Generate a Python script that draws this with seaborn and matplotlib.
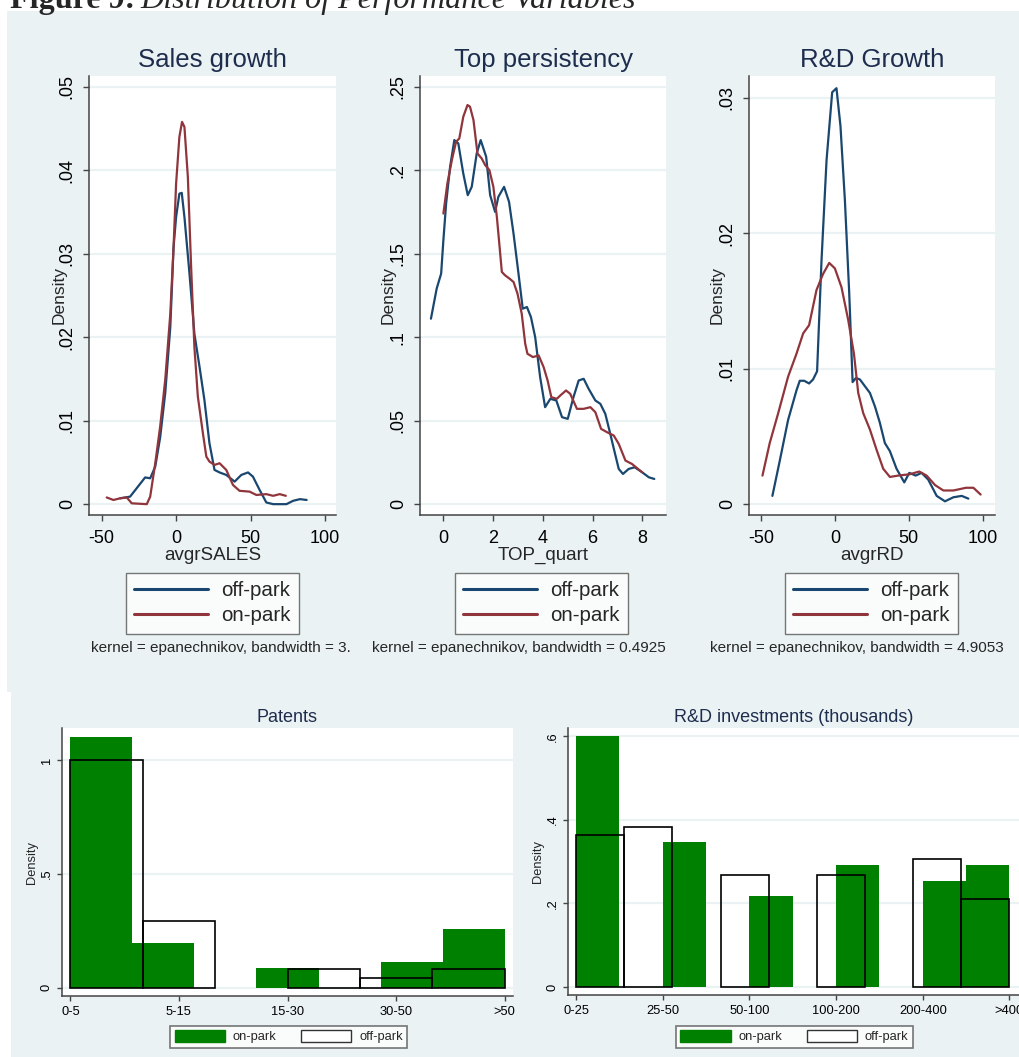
import numpy as np
import pandas as pd
import matplotlib
matplotlib.use("Agg")
import matplotlib.pyplot as plt
import seaborn as sns
from matplotlib.patches import Rectangle, Patch
from matplotlib.lines import Line2D

# ---------------- data ----------------
# Kernel density estimates (x value, density)
sales_off_x = [-37.6, -30.9, -20.8, -17.4, -14.0, -10.7, -7.3, -3.9, -1.7, 0.0, 2.2, 3.8, 5.6,
               9.0, 12.3, 15.7, 19.0, 22.4, 25.8, 29.2, 33.7, 39.3, 43.8, 48.3, 51.6, 56.1,
               60.6, 65.2, 74.1, 78.6, 83.2, 87.7]
sales_off_y = [0.0007, 0.0009, 0.0032, 0.0031, 0.0045, 0.0080, 0.0133, 0.0212, 0.0308, 0.0344,
               0.0372, 0.0373, 0.0344, 0.0276, 0.0204, 0.0165, 0.0125, 0.0073, 0.0041, 0.0038,
               0.0035, 0.0027, 0.0035, 0.0038, 0.0033, 0.0017, 0.0002, 0.0, 0.0, 0.0004,
               0.0006, 0.0005]
sales_on_x = [-46.6, -42.1, -37.6, -33.1, -29.8, -19.7, -17.4, -14.0, -10.7, -7.3, -3.9, -1.7,
              0.0, 2.2, 4.0, 5.6, 7.9, 10.1, 12.3, 14.6, 18.0, 20.3, 22.4, 25.8, 29.2, 33.7,
              38.2, 42.6, 49.4, 53.9, 60.6, 65.2, 69.6, 73.7]
sales_on_y = [0.0008, 0.0005, 0.0007, 0.0008, 0.0001, 0.0, 0.0009, 0.0049, 0.0093, 0.0149,
              0.0228, 0.0308, 0.0384, 0.0440, 0.0458, 0.0452, 0.0392, 0.0284, 0.0188, 0.0129,
              0.0085, 0.0057, 0.0051, 0.0047, 0.0049, 0.0041, 0.0023, 0.0016, 0.0015, 0.0011,
              0.0012, 0.0010, 0.0012, 0.0010]

top_off_x = [-0.5, -0.27, -0.09, 0.0, 0.11, 0.27, 0.44, 0.6, 0.8, 0.98, 1.14, 1.34, 1.5, 1.72,
             1.88, 2.08, 2.21, 2.44, 2.64, 2.82, 3.02, 3.19, 3.36, 3.52, 3.69, 3.89, 4.09, 4.3,
             4.54, 4.77, 5.0, 5.23, 5.44, 5.64, 5.84, 6.11, 6.31, 6.51, 6.71, 6.87, 7.05, 7.22,
             7.45, 7.69, 7.99, 8.26, 8.48]
top_off_y = [0.111, 0.129, 0.138, 0.158, 0.180, 0.202, 0.218, 0.216, 0.198, 0.185, 0.190, 0.210,
             0.218, 0.208, 0.185, 0.175, 0.184, 0.190, 0.181, 0.162, 0.138, 0.117, 0.118, 0.112,
             0.100, 0.076, 0.058, 0.063, 0.062, 0.052, 0.051, 0.064, 0.074, 0.075, 0.069, 0.062,
             0.060, 0.054, 0.042, 0.032, 0.021, 0.018, 0.021, 0.022, 0.019, 0.016, 0.015]
top_on_x = [0.0, 0.16, 0.34, 0.51, 0.64, 0.8, 0.97, 1.07, 1.21, 1.37, 1.54, 1.68, 1.85, 2.01,
            2.15, 2.26, 2.35, 2.48, 2.66, 2.82, 2.98, 3.15, 3.29, 3.38, 3.6, 3.83, 4.03, 4.19,
            4.34, 4.56, 4.7, 4.93, 5.1, 5.37, 5.64, 5.91, 6.11, 6.34, 6.58, 6.85, 7.05, 7.32,
            7.58, 7.99]
top_on_y = [0.174, 0.192, 0.206, 0.217, 0.219, 0.232, 0.239, 0.238, 0.230, 0.210, 0.207, 0.203,
            0.200, 0.190, 0.172, 0.154, 0.139, 0.137, 0.135, 0.133, 0.126, 0.114, 0.096, 0.090,
            0.088, 0.089, 0.082, 0.074, 0.064, 0.063, 0.065, 0.068, 0.066, 0.057, 0.057, 0.058,
            0.055, 0.045, 0.043, 0.041, 0.036, 0.026, 0.024, 0.019]

rd_off_x = [-42.2, -37.2, -31.6, -25.9, -23.7, -20.7, -17.4, -14.7, -12.0, -9.0, -5.6, -1.8,
            1.1, 3.8, 6.8, 9.7, 12.0, 14.2, 16.9, 20.3, 23.7, 27.1, 30.4, 33.8, 37.2, 41.7,
            46.9, 50.3, 54.6, 58.6, 63.1, 68.8, 74.4, 80.1, 85.7, 90.2]
rd_off_y = [0.0006, 0.0032, 0.0062, 0.0084, 0.0091, 0.0091, 0.0089, 0.0092, 0.0098, 0.0180,
            0.0254, 0.0304, 0.0307, 0.0279, 0.0224, 0.0156, 0.0090, 0.0093, 0.0092, 0.0087,
            0.0082, 0.0072, 0.0060, 0.0045, 0.0039, 0.0026, 0.0016, 0.0023, 0.0021, 0.0023,
            0.0018, 0.0006, 0.0002, 0.0005, 0.0006, 0.0004]
rd_on_x = [-48.9, -44.0, -38.3, -31.6, -25.9, -21.4, -17.4, -12.4, -7.9, -3.8, 0.0, 4.5, 9.0,
           12.9, 15.8, 19.2, 23.7, 28.2, 32.7, 37.2, 42.8, 50.7, 57.0, 62.0, 67.7, 73.3, 80.1,
           88.6, 93.6, 98.5]
rd_on_y = [0.0021, 0.0045, 0.0067, 0.0094, 0.0111, 0.0126, 0.0132, 0.0158, 0.0170, 0.0178,
           0.0174, 0.0160, 0.0136, 0.0111, 0.0082, 0.0067, 0.0055, 0.0040, 0.0026, 0.0020,
           0.0021, 0.0022, 0.0024, 0.0021, 0.0014, 0.0010, 0.0010, 0.0012, 0.0012, 0.0007]

# Histogram densities per bin (classes spread evenly over the category axis)
patents_cats = ["0-5", "5-15", "15-30", "30-50", ">50"]
patents_on = [1.103, 0.196, 0.0, 0.085, 0.0, 0.113, 0.257]
patents_off = [1.0, 0.293, 0.0, 0.081, 0.041, 0.081]

rdinv_cats = ["0-25", "25-50", "50-100", "100-200", "200-400", ">400"]
rdinv_on = [0.600, 0.0, 0.346, 0.0, 0.219, 0.0, 0.291, 0.0, 0.255, 0.291]
rdinv_off = [0.363, 0.383, 0.0, 0.268, 0.0, 0.268, 0.0, 0.306, 0.211]

sales_yticks = [0, 0.01, 0.02, 0.03, 0.04, 0.05]
sales_ylabels = ["0", ".01", ".02", ".03", ".04", ".05"]
top_yticks = [0, 0.05, 0.10, 0.15, 0.20, 0.25]
top_ylabels = ["0", ".05", ".1", ".15", ".2", ".25"]
rd_yticks = [0, 0.01, 0.02, 0.03]
rd_ylabels = ["0", ".01", ".02", ".03"]
patents_yticks = [0, 0.5, 1.0]
patents_ylabels = ["0", ".5", "1"]
rdinv_yticks = [0, 0.2, 0.4, 0.6]
rdinv_ylabels = ["0", ".2", ".4", ".6"]

bandwidth_notes = ["kernel = epanechnikov, bandwidth = 3.",
                   "kernel = epanechnikov, bandwidth = 0.4925",
                   "kernel = epanechnikov, bandwidth = 4.9053"]

# ---------------- style ----------------
sns.set_style("ticks")
plt.rcParams["font.family"] = ["Liberation Sans", "DejaVu Sans"]

NAVY = "#1A476F"
MAROON = "#90353B"
GREEN = "#008000"
BG = "#EAF2F3"
GRID = "#EAF2F3"
TITLE = "#1E2D4E"
AXIS = "#444444"

W, H = 1019, 1057
fig = plt.figure(figsize=(W / 100, H / 100), dpi=100)


def fx(x):
    return x / W


def fy(y):
    return 1 - y / H


def px_axes(x0, y0, x1, y1):
    return fig.add_axes([fx(x0), fy(y1), (x1 - x0) / W, (y1 - y0) / H])


# graph-region backgrounds
fig.add_artist(Rectangle((fx(7), fy(692)), (W - 7) / W, (692 - 11) / H,
                         transform=fig.transFigure, facecolor=BG, edgecolor="none", zorder=0))
fig.add_artist(Rectangle((fx(11), fy(H)), (W - 11) / W, (H - 692) / H,
                         transform=fig.transFigure, facecolor=BG, edgecolor="none", zorder=0))

# caption
cap1 = fig.text(fx(10), fy(8), "Figure 9:", family="Liberation Serif", weight="bold",
                fontsize=23.1, va="baseline", ha="left")
fig.canvas.draw()
bb = cap1.get_window_extent()
fig.text(bb.x1 / W + 5 / W, fy(8), "Distribution of Performance Variables",
         family="Liberation Serif", style="italic", fontsize=23.1, va="baseline", ha="left")


def base_style(ax, label_size, tick_len):
    ax.set_facecolor("white")
    for s in ["top", "right"]:
        ax.spines[s].set_visible(False)
    for s in ["left", "bottom"]:
        ax.spines[s].set_color(AXIS)
        ax.spines[s].set_linewidth(1.1)
    ax.grid(axis="y", color=GRID, linewidth=1.6)
    ax.grid(axis="x", visible=False)
    ax.set_axisbelow(True)
    ax.tick_params(axis="both", colors=AXIS, labelcolor="black", length=tick_len,
                   width=1.0, labelsize=label_size)


# ---------------- top: kernel densities ----------------
density_panels = [
    dict(box=(89, 76, 336, 515), title="Sales growth", xlabel="avgrSALES",
         off=(sales_off_x, sales_off_y), on=(sales_on_x, sales_on_y),
         xlim=(-58.5, 107.4), ylim=(-0.0013, 0.0513), xticks=[-50, 0, 50, 100],
         yticks=sales_yticks, ylabels=sales_ylabels, legend_x=126, note_x=91, ylab_off=22),
    dict(box=(420, 76, 666, 515), title="Top persistency", xlabel="TOP_quart",
         off=(top_off_x, top_off_y), on=(top_on_x, top_on_y),
         xlim=(-0.94, 8.95), ylim=(-0.0066, 0.2564), xticks=[0, 2, 4, 6, 8],
         yticks=top_yticks, ylabels=top_ylabels, legend_x=455, note_x=372, ylab_off=24),
    dict(box=(749, 76, 995, 515), title="R&D Growth", xlabel="avgrRD",
         off=(rd_off_x, rd_off_y), on=(rd_on_x, rd_on_y),
         xlim=(-58.0, 108.2), ylim=(-0.00081, 0.0316), xticks=[-50, 0, 50, 100],
         yticks=rd_yticks, ylabels=rd_ylabels, legend_x=785, note_x=710, ylab_off=24),
]

for i, p in enumerate(density_panels):
    ax = px_axes(*p["box"])
    base_style(ax, 13, 4.5)
    df = pd.concat([
        pd.DataFrame({"x": p["off"][0], "density": p["off"][1], "group": "off-park"}),
        pd.DataFrame({"x": p["on"][0], "density": p["on"][1], "group": "on-park"}),
    ], ignore_index=True)
    sns.lineplot(data=df, x="x", y="density", hue="group",
                 palette={"off-park": NAVY, "on-park": MAROON},
                 estimator=None, sort=False, linewidth=1.6, legend=False, ax=ax)
    ax.set_xlim(p["xlim"])
    ax.set_ylim(p["ylim"])
    ax.set_xticks(p["xticks"])
    ax.set_xticklabels([f"{t:g}" for t in p["xticks"]])
    ax.set_yticks(p["yticks"])
    ax.set_yticklabels(p["ylabels"], rotation=90, va="center")
    ax.tick_params(axis="y", pad=5)
    ax.tick_params(axis="x", pad=6)
    ax.set_title(p["title"], fontsize=18.5, color=TITLE, pad=6.5)
    ax.set_xlabel(p["xlabel"], fontsize=13.5, labelpad=0)
    ax.set_ylabel("Density", fontsize=12.5)
    x0, y0, x1, y1 = p["box"]
    ax.yaxis.set_label_coords(-p["ylab_off"] / (x1 - x0), 0.5)

    handles = [Line2D([], [], color=NAVY, lw=2.2), Line2D([], [], color=MAROON, lw=2.2)]
    leg = ax.legend(handles, ["off-park", "on-park"], loc="upper left",
                    bbox_to_anchor=(fx(p["legend_x"]), fy(573)), bbox_transform=fig.transFigure,
                    frameon=True, fancybox=False, fontsize=14.8, handlelength=3.6,
                    handletextpad=0.65, labelspacing=0.3, borderpad=0.4, borderaxespad=0)
    leg.get_frame().set_edgecolor("#555555")
    leg.get_frame().set_linewidth(1.0)
    fig.text(fx(p["note_x"]), fy(648), bandwidth_notes[i], fontsize=11, va="center", ha="left")


# ---------------- bottom: histograms ----------------
def draw_hist(ax, on_vals, off_vals, upper):
    for vals, kw in [(on_vals, dict(color=GREEN, alpha=1, linewidth=0, fill=True)),
                     (off_vals, dict(color="black", linewidth=1.2, fill=False))]:
        edges = np.linspace(0, upper, len(vals) + 1)
        bins_df = pd.DataFrame({"bin": (edges[:-1] + edges[1:]) / 2, "density": vals})
        n_before = len(ax.patches)
        sns.histplot(data=bins_df, x="bin", weights="density", bins=list(edges),
                     stat="count", ax=ax, **kw)
        for patch in list(ax.patches[n_before:]):
            if patch.get_height() <= 0:
                patch.remove()


hist_panels = [
    dict(box=(61.7, 728, 513, 996), title="Patents", on=patents_on, off=patents_off,
         cats=patents_cats, upper=4, xlim=(-0.08, 4.077), ylim=(-0.037, 1.141),
         yticks=patents_yticks, ylabels=patents_ylabels, legend_x=170),
    dict(box=(567.7, 728, 1019, 995), title="R&D investments (thousands)", on=rdinv_on,
         off=rdinv_off, cats=rdinv_cats, upper=5, xlim=(-0.096, 5.11), ylim=(-0.019, 0.62),
         yticks=rdinv_yticks, ylabels=rdinv_ylabels, legend_x=675.7),
]

for p in hist_panels:
    ax = px_axes(*p["box"])
    base_style(ax, 9.3, 3.5)
    draw_hist(ax, p["on"], p["off"], p["upper"])
    ax.set_xlim(p["xlim"])
    ax.set_ylim(p["ylim"])
    ax.set_xticks(range(len(p["cats"])))
    ax.set_xticklabels(p["cats"])
    ax.set_yticks(p["yticks"])
    ax.set_yticklabels(p["ylabels"], rotation=90, va="center")
    ax.tick_params(axis="y", pad=3)
    ax.tick_params(axis="x", pad=4)
    ax.set_title(p["title"], fontsize=13, color=TITLE, pad=4.5)
    ax.set_xlabel("")
    ax.set_ylabel("Density", fontsize=9.3)
    x0, y0, x1, y1 = p["box"]
    ax.yaxis.set_label_coords(-24 / (x1 - x0), 0.5)

    handles = [Patch(facecolor=GREEN, edgecolor=GREEN),
               Patch(facecolor="white", edgecolor="#333333", linewidth=1.0)]
    leg = ax.legend(handles, ["on-park", "off-park"], ncol=2, loc="upper left",
                    bbox_to_anchor=(fx(p["legend_x"]), fy(1025.7)), bbox_transform=fig.transFigure,
                    frameon=True, fancybox=False, fontsize=9.3, handlelength=3.9, handleheight=1.0,
                    handletextpad=0.6, columnspacing=1.9, borderpad=0.35, borderaxespad=0)
    leg.get_frame().set_edgecolor("#555555")
    leg.get_frame().set_linewidth(1.2)

fig.savefig("out.png", dpi=100)
